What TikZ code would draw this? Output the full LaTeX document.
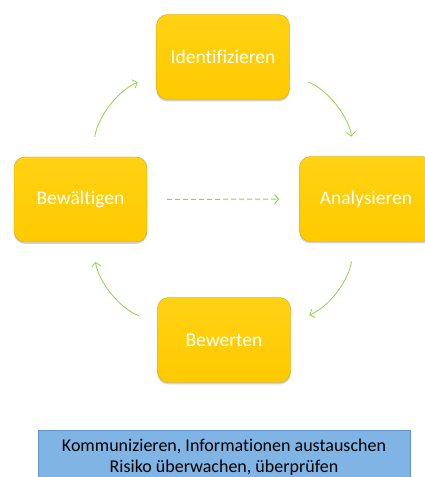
\documentclass[tikz,border=0pt]{standalone}
\usepackage{fontspec}
\setmainfont{Carlito}[Ligatures=NoCommon]
\usetikzlibrary{arrows.meta,shadows}
\definecolor{phasegold}{RGB}{255,202,0}
\definecolor{phasetop}{RGB}{255,210,20}
\definecolor{phaseedge}{RGB}{214,166,10}
\definecolor{loopgreen}{RGB}{146,208,80}
\definecolor{infoblue}{RGB}{128,180,228}
\definecolor{infoedge}{RGB}{96,146,204}
\tikzset{
  phase/.style={draw=phaseedge,line width=0.4pt,top color=phasetop,bottom color=phasegold,
                rounded corners=11pt,minimum width=133pt,minimum height=85pt,
                text=white,font=\fontsize{19.5}{22}\selectfont,
                drop shadow={shadow xshift=0pt,shadow yshift=-2pt,opacity=0.35}},
  loopflow/.style={draw=loopgreen,line width=0.8pt,
                   -{Straight Barb[length=4pt,width=9pt]},
                   shorten <=20pt,shorten >=20pt},
  shortcut/.style={loopflow,line width=1pt,dash pattern=on 5pt off 3pt},
  info/.style={draw=infoedge,line width=0.6pt,fill=infoblue,minimum width=372pt,
               minimum height=55pt,align=center,font=\fontsize{18}{21}\selectfont},
}
\begin{document}
\begin{tikzpicture}[x=1pt,y=1pt]
  \path[use as bounding box] (0,0) rectangle (425,477);

  \node[phase] (ident) at (223,420) {Identifizieren};
  \node[phase] (analyse) at (366,278) {Analysieren};
  \node[phase] (bewerten) at (224,137) {Bewerten};
  \node[phase] (bewaeltigen) at (80.5,277.5) {Bewältigen};

  \draw[loopflow] (ident) to[bend left=30] (analyse);
  \draw[loopflow] (analyse) to[bend left=30] (bewerten);
  \draw[loopflow] (bewerten) to[bend left=30] (bewaeltigen);
  \draw[loopflow] (bewaeltigen) to[bend left=30] (ident);
  \draw[shortcut] (bewaeltigen) -- (analyse);

  \node[info] (comm) at (224,19.5)
    {Kommunizieren, Informationen austauschen\\Risiko überwachen, überprüfen};
\end{tikzpicture}
\end{document}
